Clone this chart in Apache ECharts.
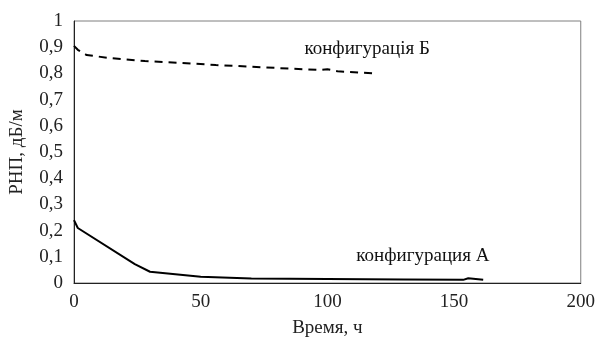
<!DOCTYPE html>
<html><head><meta charset="utf-8">
<script src="https://cdn.jsdelivr.net/npm/echarts@6/dist/echarts.min.js"></script>
<style>html,body{margin:0;padding:0;background:#fff}#c{width:598px;height:343px}</style>
</head><body><div id="c"></div>
<script>
const timeA = [0, 1.5, 24, 30, 50, 70, 100, 130, 153.6, 155.6, 161.5];
const valA  = [0.24, 0.21, 0.072, 0.043, 0.024, 0.017, 0.015, 0.013, 0.012, 0.018, 0.012];
const timeB = [0, 1.5, 5, 13, 28, 42, 56, 75, 97, 100, 104, 119];
const valB  = [0.905, 0.89, 0.87, 0.86, 0.847, 0.84, 0.832, 0.823, 0.813, 0.816, 0.808, 0.80];
const labelA = 'конфигурация А';
const labelB = 'конфигурація Б';
const xName = 'Время, ч';
const yName = 'РНП, дБ/м';
const font = '"Liberation Serif", "Times New Roman", serif';
const fs = 19;

const chart = echarts.init(document.getElementById('c'), null, {renderer:'canvas'});
const zip = (a,b)=>a.map((v,i)=>[v,b[i]]);
const mp = (x,y,txt)=>({symbol:'circle',symbolSize:1,itemStyle:{opacity:0},
  data:[{coord:[x,y],label:{show:true,position:'inside',formatter:txt,fontFamily:font,fontSize:fs,color:'#111',opacity:1}}]});
chart.setOption({
  animation:false,
  grid:{left:74,right:15,top:21,bottom:60,show:true,borderColor:'#7f7f7f',borderWidth:1},
  xAxis:{type:'value',min:0,max:200,interval:50,name:xName,nameLocation:'middle',nameGap:36,
    nameTextStyle:{fontFamily:font,fontSize:fs,color:'#222'},
    axisLine:{show:true,onZero:false,lineStyle:{color:'#222',width:1}},axisTick:{show:false},splitLine:{show:false},
    axisLabel:{fontFamily:font,fontSize:fs,color:'#222',margin:10}},
  yAxis:{type:'value',min:0,max:1,interval:0.1,name:yName,nameLocation:'middle',nameGap:47,
    nameTextStyle:{fontFamily:font,fontSize:fs,color:'#222'},
    axisLine:{show:true,lineStyle:{color:'#222',width:1}},axisTick:{show:false},splitLine:{show:false},
    axisLabel:{fontFamily:font,fontSize:fs,color:'#222',margin:11,formatter:v=>String(+v.toFixed(1)).replace('.',',')}},
  series:[
    {type:'line',data:zip(timeA,valA),showSymbol:false,lineStyle:{color:'#000',width:2},markPoint:mp(137.7,0.103,labelA)},
    {type:'line',data:zip(timeB,valB),showSymbol:false,lineStyle:{color:'#000',width:2,type:[8,6]},markPoint:mp(115.7,0.893,labelB)}
  ]
});
</script></body></html>
